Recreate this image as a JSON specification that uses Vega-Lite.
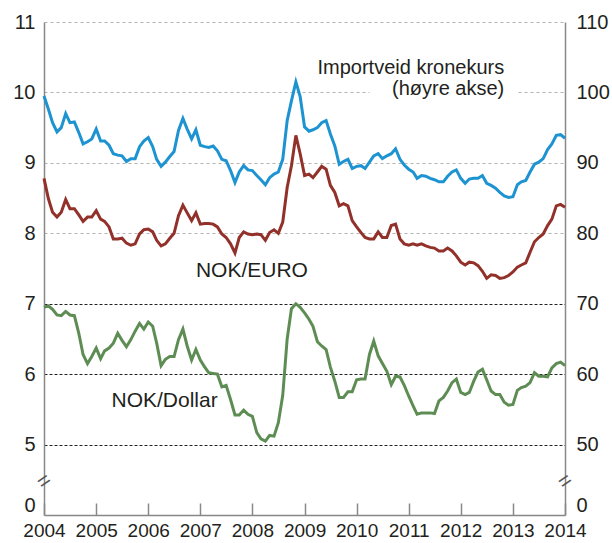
{
  "$schema": "https://vega.github.io/schema/vega-lite/v6.json",
  "width": 521,
  "height": 493,
  "autosize": "none",
  "padding": {"left": 44, "top": 22, "right": 47, "bottom": 28},
  "background": "white",
  "config": {"view": {"stroke": null}, "font": "Liberation Sans"},
  "datasets": {
    "main": [
      {"d":"2004-01-01","imp":99.5,"eur":8.78,"usd":6.95},
      {"d":"2004-02-01","imp":97.6,"eur":8.49,"usd":6.97},
      {"d":"2004-03-01","imp":95.7,"eur":8.30,"usd":6.92},
      {"d":"2004-04-01","imp":94.4,"eur":8.23,"usd":6.84},
      {"d":"2004-05-01","imp":95.0,"eur":8.30,"usd":6.83},
      {"d":"2004-06-01","imp":97.0,"eur":8.48,"usd":6.89},
      {"d":"2004-07-01","imp":95.7,"eur":8.35,"usd":6.84},
      {"d":"2004-08-01","imp":95.8,"eur":8.35,"usd":6.83},
      {"d":"2004-09-01","imp":94.3,"eur":8.26,"usd":6.58},
      {"d":"2004-10-01","imp":92.7,"eur":8.17,"usd":6.28},
      {"d":"2004-11-01","imp":93.0,"eur":8.23,"usd":6.15},
      {"d":"2004-12-01","imp":93.4,"eur":8.23,"usd":6.25},
      {"d":"2005-01-01","imp":94.8,"eur":8.32,"usd":6.37},
      {"d":"2005-02-01","imp":93.1,"eur":8.20,"usd":6.22},
      {"d":"2005-03-01","imp":93.1,"eur":8.17,"usd":6.33},
      {"d":"2005-04-01","imp":92.5,"eur":8.09,"usd":6.37},
      {"d":"2005-05-01","imp":91.3,"eur":7.92,"usd":6.44},
      {"d":"2005-06-01","imp":91.1,"eur":7.92,"usd":6.58},
      {"d":"2005-07-01","imp":91.0,"eur":7.93,"usd":6.48},
      {"d":"2005-08-01","imp":90.2,"eur":7.86,"usd":6.39},
      {"d":"2005-09-01","imp":90.6,"eur":7.83,"usd":6.49},
      {"d":"2005-10-01","imp":90.6,"eur":7.85,"usd":6.61},
      {"d":"2005-11-01","imp":92.3,"eur":7.99,"usd":6.72},
      {"d":"2005-12-01","imp":93.1,"eur":8.05,"usd":6.64},
      {"d":"2006-01-01","imp":93.6,"eur":8.06,"usd":6.74},
      {"d":"2006-02-01","imp":92.3,"eur":8.02,"usd":6.68},
      {"d":"2006-03-01","imp":90.5,"eur":7.90,"usd":6.44},
      {"d":"2006-04-01","imp":89.5,"eur":7.82,"usd":6.12},
      {"d":"2006-05-01","imp":90.1,"eur":7.85,"usd":6.21},
      {"d":"2006-06-01","imp":90.9,"eur":7.93,"usd":6.25},
      {"d":"2006-07-01","imp":91.6,"eur":8.00,"usd":6.25},
      {"d":"2006-08-01","imp":94.6,"eur":8.25,"usd":6.49},
      {"d":"2006-09-01","imp":96.3,"eur":8.40,"usd":6.64},
      {"d":"2006-10-01","imp":94.8,"eur":8.29,"usd":6.40},
      {"d":"2006-11-01","imp":93.4,"eur":8.18,"usd":6.20},
      {"d":"2006-12-01","imp":94.7,"eur":8.29,"usd":6.35},
      {"d":"2007-01-01","imp":92.5,"eur":8.13,"usd":6.20},
      {"d":"2007-02-01","imp":92.3,"eur":8.14,"usd":6.10},
      {"d":"2007-03-01","imp":92.2,"eur":8.14,"usd":6.02},
      {"d":"2007-04-01","imp":92.4,"eur":8.13,"usd":6.01},
      {"d":"2007-05-01","imp":91.7,"eur":8.09,"usd":6.00},
      {"d":"2007-06-01","imp":90.5,"eur":7.99,"usd":5.82},
      {"d":"2007-07-01","imp":90.3,"eur":7.94,"usd":5.84},
      {"d":"2007-08-01","imp":88.9,"eur":7.85,"usd":5.64},
      {"d":"2007-09-01","imp":87.2,"eur":7.72,"usd":5.42},
      {"d":"2007-10-01","imp":88.7,"eur":7.94,"usd":5.42},
      {"d":"2007-11-01","imp":89.6,"eur":8.02,"usd":5.49},
      {"d":"2007-12-01","imp":89.0,"eur":7.99,"usd":5.43},
      {"d":"2008-01-01","imp":88.9,"eur":7.98,"usd":5.40},
      {"d":"2008-02-01","imp":88.2,"eur":7.99,"usd":5.17},
      {"d":"2008-03-01","imp":87.6,"eur":7.98,"usd":5.08},
      {"d":"2008-04-01","imp":86.9,"eur":7.90,"usd":5.05},
      {"d":"2008-05-01","imp":87.9,"eur":8.01,"usd":5.13},
      {"d":"2008-06-01","imp":88.4,"eur":8.05,"usd":5.12},
      {"d":"2008-07-01","imp":88.7,"eur":8.00,"usd":5.31},
      {"d":"2008-08-01","imp":90.5,"eur":8.16,"usd":5.70},
      {"d":"2008-09-01","imp":96.0,"eur":8.65,"usd":6.50},
      {"d":"2008-10-01","imp":98.8,"eur":8.96,"usd":6.93},
      {"d":"2008-11-01","imp":101.5,"eur":9.39,"usd":7.00},
      {"d":"2008-12-01","imp":99.4,"eur":9.13,"usd":6.95},
      {"d":"2009-01-01","imp":95.1,"eur":8.82,"usd":6.87},
      {"d":"2009-02-01","imp":94.5,"eur":8.84,"usd":6.78},
      {"d":"2009-03-01","imp":94.7,"eur":8.79,"usd":6.68},
      {"d":"2009-04-01","imp":95.0,"eur":8.87,"usd":6.46},
      {"d":"2009-05-01","imp":95.7,"eur":8.95,"usd":6.40},
      {"d":"2009-06-01","imp":96.0,"eur":8.91,"usd":6.35},
      {"d":"2009-07-01","imp":94.1,"eur":8.68,"usd":6.10},
      {"d":"2009-08-01","imp":92.4,"eur":8.58,"usd":5.90},
      {"d":"2009-09-01","imp":89.8,"eur":8.39,"usd":5.67},
      {"d":"2009-10-01","imp":90.2,"eur":8.42,"usd":5.67},
      {"d":"2009-11-01","imp":90.5,"eur":8.39,"usd":5.75},
      {"d":"2009-12-01","imp":89.2,"eur":8.18,"usd":5.75},
      {"d":"2010-01-01","imp":89.5,"eur":8.09,"usd":5.92},
      {"d":"2010-02-01","imp":89.6,"eur":8.01,"usd":5.93},
      {"d":"2010-03-01","imp":89.2,"eur":7.94,"usd":5.93},
      {"d":"2010-04-01","imp":90.1,"eur":7.92,"usd":6.28},
      {"d":"2010-05-01","imp":91.0,"eur":7.92,"usd":6.47},
      {"d":"2010-06-01","imp":91.3,"eur":8.02,"usd":6.26},
      {"d":"2010-07-01","imp":90.6,"eur":7.94,"usd":6.15},
      {"d":"2010-08-01","imp":91.0,"eur":7.94,"usd":6.04},
      {"d":"2010-09-01","imp":91.3,"eur":8.11,"usd":5.85},
      {"d":"2010-10-01","imp":92.0,"eur":8.13,"usd":5.97},
      {"d":"2010-11-01","imp":90.5,"eur":7.92,"usd":5.96},
      {"d":"2010-12-01","imp":89.7,"eur":7.85,"usd":5.84},
      {"d":"2011-01-01","imp":89.1,"eur":7.83,"usd":5.69},
      {"d":"2011-02-01","imp":88.7,"eur":7.85,"usd":5.55},
      {"d":"2011-03-01","imp":87.8,"eur":7.83,"usd":5.43},
      {"d":"2011-04-01","imp":88.2,"eur":7.85,"usd":5.45},
      {"d":"2011-05-01","imp":88.1,"eur":7.82,"usd":5.45},
      {"d":"2011-06-01","imp":87.8,"eur":7.80,"usd":5.45},
      {"d":"2011-07-01","imp":87.6,"eur":7.79,"usd":5.44},
      {"d":"2011-08-01","imp":87.3,"eur":7.75,"usd":5.62},
      {"d":"2011-09-01","imp":87.3,"eur":7.75,"usd":5.67},
      {"d":"2011-10-01","imp":88.1,"eur":7.79,"usd":5.76},
      {"d":"2011-11-01","imp":88.7,"eur":7.75,"usd":5.88},
      {"d":"2011-12-01","imp":89.0,"eur":7.68,"usd":5.93},
      {"d":"2012-01-01","imp":87.8,"eur":7.59,"usd":5.74},
      {"d":"2012-02-01","imp":87.1,"eur":7.55,"usd":5.71},
      {"d":"2012-03-01","imp":87.7,"eur":7.59,"usd":5.74},
      {"d":"2012-04-01","imp":87.8,"eur":7.58,"usd":5.90},
      {"d":"2012-05-01","imp":87.8,"eur":7.54,"usd":6.03},
      {"d":"2012-06-01","imp":88.2,"eur":7.46,"usd":6.07},
      {"d":"2012-07-01","imp":87.1,"eur":7.36,"usd":5.92},
      {"d":"2012-08-01","imp":86.8,"eur":7.41,"usd":5.76},
      {"d":"2012-09-01","imp":86.4,"eur":7.40,"usd":5.71},
      {"d":"2012-10-01","imp":85.8,"eur":7.36,"usd":5.71},
      {"d":"2012-11-01","imp":85.3,"eur":7.37,"usd":5.60},
      {"d":"2012-12-01","imp":85.1,"eur":7.40,"usd":5.56},
      {"d":"2013-01-01","imp":85.2,"eur":7.45,"usd":5.57},
      {"d":"2013-02-01","imp":86.9,"eur":7.52,"usd":5.77},
      {"d":"2013-03-01","imp":87.3,"eur":7.55,"usd":5.81},
      {"d":"2013-04-01","imp":87.5,"eur":7.58,"usd":5.83},
      {"d":"2013-05-01","imp":88.7,"eur":7.73,"usd":5.88},
      {"d":"2013-06-01","imp":89.8,"eur":7.88,"usd":6.02},
      {"d":"2013-07-01","imp":90.1,"eur":7.94,"usd":5.97},
      {"d":"2013-08-01","imp":90.6,"eur":7.99,"usd":5.97},
      {"d":"2013-09-01","imp":91.9,"eur":8.11,"usd":5.96},
      {"d":"2013-10-01","imp":92.7,"eur":8.20,"usd":6.09},
      {"d":"2013-11-01","imp":93.9,"eur":8.39,"usd":6.15},
      {"d":"2013-12-01","imp":94.0,"eur":8.41,"usd":6.17},
      {"d":"2014-01-01","imp":93.5,"eur":8.37,"usd":6.12}
    ],
    "labels": [
      {"d":"2012-11-01","v":10.26,"t":"Importveid kronekurs","a":"r"},
      {"d":"2012-11-01","v":9.965,"t":"(høyre akse)","a":"r"},
      {"d":"2006-12-01","v":7.38,"t":"NOK/EURO","a":"l"},
      {"d":"2005-04-18","v":5.53,"t":"NOK/Dollar","a":"l"}
    ],
    "mask": [
      {"d":"2010-04-01","d2":"2013-02-07","v":9.9,"v2":10.1}
    ],
    "breaks": [
      {"d":"2004-01-01","v":4.48},
      {"d":"2014-01-01","v":4.48}
    ]
  },
  "encoding": {
    "x": {
      "field": "d",
      "type": "temporal",
      "scale": {"type": "utc", "domain": [{"year": 2004, "month": 1, "date": 1, "utc": true}, {"year": 2014, "month": 1, "date": 1, "utc": true}]},
      "axis": {
        "title": null,
        "format": "%Y",
        "values": [
          {"year": 2004, "utc": true}, {"year": 2005, "utc": true}, {"year": 2006, "utc": true},
          {"year": 2007, "utc": true}, {"year": 2008, "utc": true}, {"year": 2009, "utc": true},
          {"year": 2010, "utc": true}, {"year": 2011, "utc": true}, {"year": 2012, "utc": true},
          {"year": 2013, "utc": true}, {"year": 2014, "utc": true}
        ],
        "grid": false,
        "tickSize": -12,
        "tickColor": "#888888",
        "tickWidth": 1.5,
        "domainColor": "#888888",
        "domainWidth": 1.5,
        "labelFont": "Liberation Sans",
        "labelFontSize": 19,
        "labelColor": "#231f20",
        "labelPadding": 18,
        "labelFlush": false,
        "labelOverlap": false
      }
    }
  },
  "layer": [
    {
      "encoding": {
        "y": {
          "field": "v",
          "type": "quantitative",
          "scale": {"domain": [4, 11], "nice": false, "zero": false},
          "axis": {
            "title": null,
            "values": [4, 5, 6, 7, 8, 9, 10, 11],
            "labelExpr": "datum.value == 4 ? '0' : datum.label",
            "labelBaseline": {"condition": {"test": "datum.value == 4", "value": "bottom"}, "value": "middle"},
            "ticks": false,
            "domainColor": "#888888",
            "domainWidth": 1.5,
            "labelFont": "Liberation Sans",
            "labelFontSize": 20,
            "labelColor": "#231f20",
            "labelPadding": 9,
            "grid": true,
            "gridColor": {"condition": {"test": "datum.value <= 7", "value": "#222222"}, "value": "#b3b3b3"},
            "gridDash": {"condition": {"test": "datum.value <= 7", "value": [3, 2]}, "value": [3, 3]},
            "gridOpacity": {"condition": {"test": "datum.value == 4", "value": 0}, "value": 1},
            "gridWidth": 1
          }
        }
      },
      "layer": [
        {
          "data": {"name": "main"},
          "transform": [{"fold": ["eur", "usd"], "as": ["s", "v"]}],
          "mark": {"type": "line", "strokeWidth": 3, "interpolate": "linear"},
          "encoding": {
            "color": {"field": "s", "type": "nominal", "scale": {"domain": ["eur", "usd"], "range": ["#92302a", "#5e8d54"]}, "legend": null}
          }
        },
        {
          "data": {"name": "mask"},
          "mark": {"type": "rect", "color": "white"},
          "encoding": {
            "x2": {"field": "d2"},
            "y2": {"field": "v2"}
          }
        },
        {
          "data": {"name": "labels"},
          "transform": [{"filter": "datum.a == 'r'"}],
          "mark": {"type": "text", "align": "right", "baseline": "alphabetic", "fontSize": 20, "font": "Liberation Sans", "color": "#231f20"},
          "encoding": {"text": {"field": "t"}}
        },
        {
          "data": {"name": "labels"},
          "transform": [{"filter": "datum.a == 'l'"}],
          "mark": {"type": "text", "align": "left", "baseline": "alphabetic", "fontSize": 21, "font": "Liberation Sans", "color": "#231f20"},
          "encoding": {"text": {"field": "t"}}
        },
        {
          "data": {"name": "breaks"},
          "mark": {"type": "text", "text": "=", "angle": 325, "fontSize": 22, "font": "Liberation Sans", "color": "#555555", "align": "center", "baseline": "middle"},
          "encoding": {}
        }
      ]
    },
    {
      "data": {"name": "main"},
      "mark": {"type": "line", "strokeWidth": 3, "color": "#1d93d1"},
      "encoding": {
        "y": {
          "field": "imp",
          "type": "quantitative",
          "scale": {"domain": [40, 110], "nice": false, "zero": false},
          "axis": {
            "orient": "right",
            "title": null,
            "values": [40, 50, 60, 70, 80, 90, 100, 110],
            "labelExpr": "datum.value == 40 ? '0' : datum.label",
            "labelBaseline": {"condition": {"test": "datum.value == 40", "value": "bottom"}, "value": "middle"},
            "ticks": false,
            "grid": false,
            "domainColor": "#888888",
            "domainWidth": 1.5,
            "labelFont": "Liberation Sans",
            "labelFontSize": 20,
            "labelColor": "#231f20",
            "labelPadding": 11
          }
        }
      }
    }
  ],
  "resolve": {"scale": {"y": "independent"}}
}
